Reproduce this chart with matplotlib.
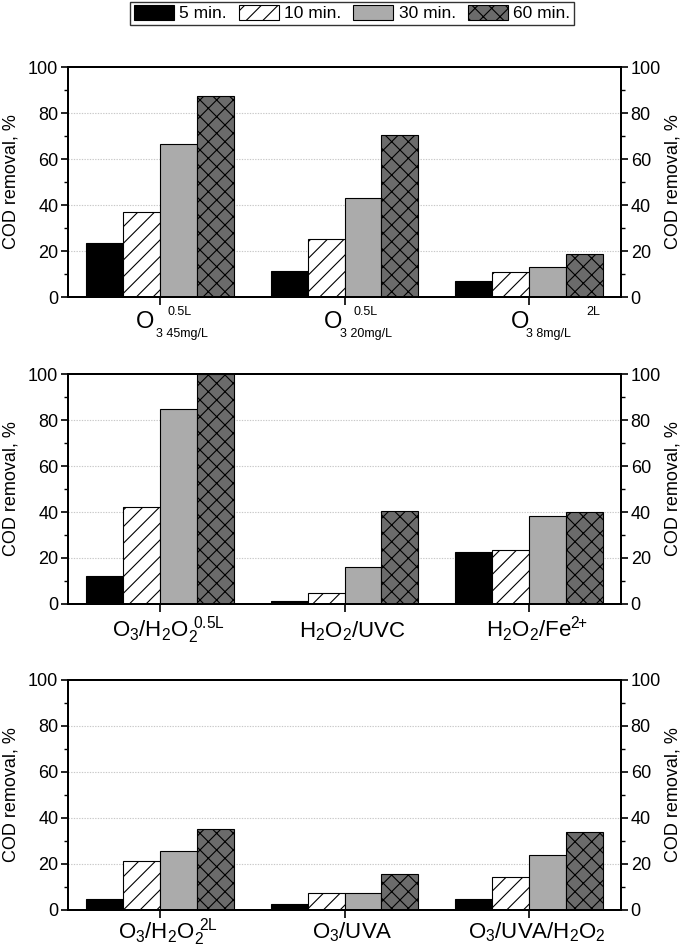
import numpy as np
import matplotlib
matplotlib.use("Agg")
import matplotlib.pyplot as plt
from matplotlib.ticker import MultipleLocator
from matplotlib.patches import Patch

plt.rcParams["font.family"] = ["Liberation Sans", "DejaVu Sans"]
plt.rcParams["hatch.linewidth"] = 0.8
plt.rcParams["mathtext.default"] = "regular"

# ---------- Data ----------
times = ["5 min.", "10 min.", "30 min.", "60 min."]

# panel 1: ozonation at different doses
top_main = ["O", "O", "O"]
top_sub = ["3 45mg/L", "3 20mg/L", "3 8mg/L"]
top_sup = ["0.5L", "0.5L", "2L"]
top_5 = [23.5, 11.5, 7.0]
top_10 = [36.8, 25.3, 11.0]
top_30 = [66.7, 43.0, 13.0]
top_60 = [87.6, 70.6, 18.6]

# panel 2
mid_labels = [r"$O_3/H_2O_2^{\ 0.5L}$", r"$H_2O_2/UVC$", r"$H_2O_2/Fe^{2\!\!+}$"]
mid_5 = [12.2, 1.3, 22.6]
mid_10 = [42.0, 4.7, 23.5]
mid_30 = [85.0, 16.0, 38.4]
mid_60 = [100.0, 40.4, 39.8]

# panel 3
bot_labels = [r"$O_3/H_2O_2^{\ 2L}$", r"$O_3/UVA$", r"$O_3/UVA/H_2O_2$"]
bot_5 = [4.9, 2.8, 4.9]
bot_10 = [21.5, 7.2, 14.2]
bot_30 = [25.6, 7.2, 24.0]
bot_60 = [35.4, 15.7, 33.8]

# ---------- Styles ----------
STYLES = [
    dict(facecolor="black", hatch=None),
    dict(facecolor="white", hatch="//"),
    dict(facecolor="#ababab", hatch=None),
    dict(facecolor="#6b6b6b", hatch="xx"),
]
BAR_W = 0.2
OFFSETS = [-0.3, -0.1, 0.1, 0.3]
TICK_FS = 13
YLAB_FS = 13

fig = plt.figure(figsize=(6.85, 9.5), dpi=100)
W, H = 685.0, 950.0
AX_L, AX_W = 68.0, 553.0


def style_yaxis(ax, right=False):
    ax.set_ylim(0, 100)
    ax.yaxis.set_major_locator(MultipleLocator(20))
    ax.yaxis.set_minor_locator(MultipleLocator(10))
    ax.tick_params(axis="y", which="major", direction="out", length=5, width=1.2,
                   labelsize=TICK_FS, pad=2)
    ax.tick_params(axis="y", which="minor", direction="out", length=3, width=1.0)
    for sp in ax.spines.values():
        sp.set_linewidth(1.4)
    ax.set_ylabel("COD removal, %", fontsize=YLAB_FS)
    if right:
        ax.yaxis.set_label_coords((664 - AX_L) / AX_W, 0.5)
    else:
        ax.yaxis.set_label_coords((20 - AX_L) / AX_W, 0.5)


def make_panel(top_px, series):
    ax = fig.add_axes([AX_L / W, 1 - (top_px + 230) / H, AX_W / W, 230 / H])
    x = np.arange(1, 4)
    for vals, off, st in zip(series, OFFSETS, STYLES):
        ax.bar(x + off, vals, BAR_W, facecolor=st["facecolor"], hatch=st["hatch"],
               edgecolor="black", linewidth=0.8, zorder=2)
    ax.set_xlim(0.5, 3.5)
    ax.set_xticks(x)
    ax.set_xticklabels([])
    for yv in [20, 40, 60, 80]:
        ax.axhline(yv, color="#c8c8c8", linestyle=(0, (1.2, 1.2)), linewidth=0.8, zorder=0)
    ax.tick_params(axis="x", which="major", direction="out", length=6, width=1.2)
    style_yaxis(ax)
    style_yaxis(ax.twinx(), right=True)
    return ax


ax1 = make_panel(67, [top_5, top_10, top_30, top_60])
ax2 = make_panel(374, [mid_5, mid_10, mid_30, mid_60])
ax3 = make_panel(680, [bot_5, bot_10, bot_30, bot_60])

# top panel labels built from pieces
o_dx = [-15, -11, -9]
sub_dx = [-4, -4, -3]
sup_dx = [7, 9, 57]
for i in range(3):
    kw = dict(xy=(i + 1, 0), xycoords=("data", "axes fraction"), textcoords="offset pixels")
    ax1.annotate(top_main[i], xytext=(o_dx[i], -25), ha="center", va="center", fontsize=17, **kw)
    ax1.annotate(top_sub[i], xytext=(sub_dx[i], -37), ha="left", va="center", fontsize=9, **kw)
    ax1.annotate(top_sup[i], xytext=(sup_dx[i], -15), ha="left", va="center", fontsize=9, **kw)

for ax, labels, dy in [(ax2, mid_labels, -33), (ax3, bot_labels, -28)]:
    for i, lab in enumerate(labels):
        ax.annotate(lab, xy=(i + 1, 0), xycoords=("data", "axes fraction"),
                    xytext=(8, dy), textcoords="offset pixels",
                    ha="center", va="baseline", fontsize=16)

# legend
handles = [Patch(facecolor=st["facecolor"], hatch=st["hatch"], edgecolor="black",
                 linewidth=0.8) for st in STYLES]
fig.legend(handles, times, loc="upper center", bbox_to_anchor=(352 / W, 1.0), ncol=4,
           fontsize=12.5, frameon=True, fancybox=False, edgecolor="black",
           handlelength=2.3, handleheight=0.9, handletextpad=0.3, columnspacing=0.7,
           borderpad=0.2, borderaxespad=0.1).get_frame().set_linewidth(1.0)

fig.savefig("out.png", dpi=100)
